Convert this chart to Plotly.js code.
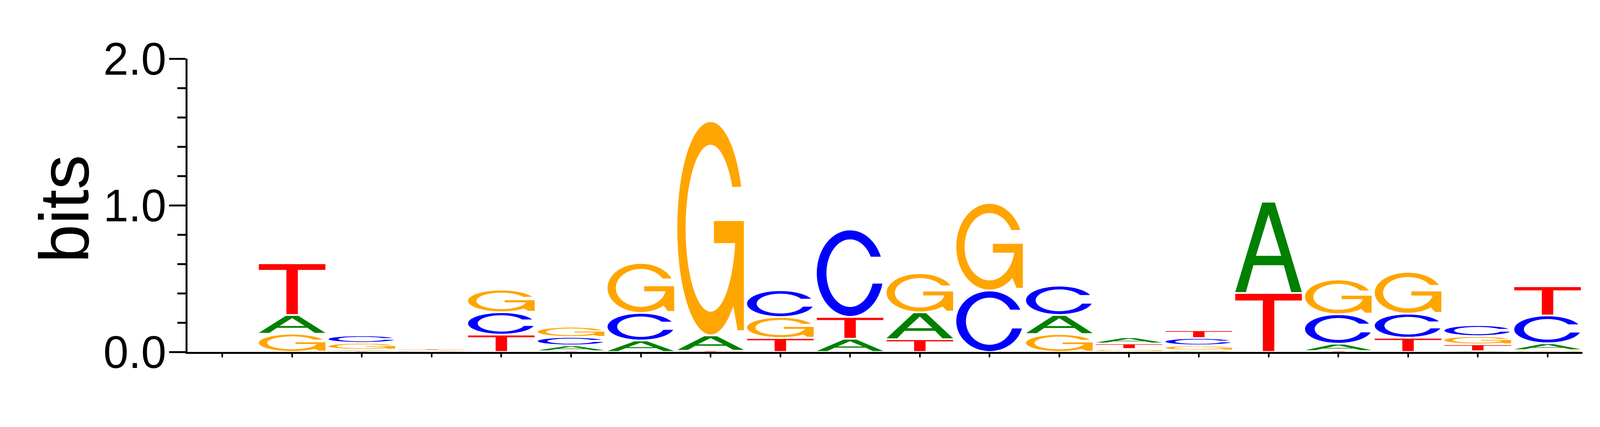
<!DOCTYPE html>
<html>
<head>
<meta charset="utf-8">
<title>Sequence logo</title>
<script src="https://cdn.plot.ly/plotly-3.0.1.min.js" charset="utf-8"></script>
<style>
    * { margin: 0; padding: 0; }
    body { background: white; overflow: hidden; }
</style>
</head>
<body>
<div id="logo"></div>
<script>
// positions of the motif and information content (bits) of every base
const positions = [1, 2, 3, 4, 5, 6, 7, 8, 9, 10, 11, 12, 13, 14, 15, 16, 17, 18, 19, 20];
const bitsA = [0, 0.128, 0.010, 0.004, 0, 0.040, 0.078, 0.105, 0, 0.090, 0.183, 0, 0.130, 0.042, 0.010, 0.623, 0.050, 0, 0.005, 0.047];
const bitsC = [0, 0, 0.051, 0.002, 0.153, 0.057, 0.188, 0, 0.183, 0.596, 0, 0.419, 0.200, 0, 0.050, 0, 0.201, 0.164, 0.075, 0.190];
const bitsG = [0, 0.124, 0.047, 0.006, 0.154, 0.070, 0.341, 1.461, 0.143, 0, 0.267, 0.597, 0.122, 0.020, 0.035, 0, 0.237, 0.285, 0.056, 0.012];
const bitsT = [0, 0.353, 0.005, 0.008, 0.118, 0.005, 0, 0.008, 0.095, 0.149, 0.087, 0, 0, 0.038, 0.053, 0.402, 0.006, 0.097, 0.047, 0.199];

const yTickVals = [0, 1, 2];
const yTickText = ['0.0', '1.0', '2.0'];

const colors = { A: '#008000', C: '#0000ff', G: '#ffa500', T: '#ff0000' };

// points on an ellipse arc, angles in degrees
function arc(cx, cy, rx, ry, a0, a1, n) {
    let pts = [];
    for (let i = 0; i <= n; i++) {
        let a = (a0 + (a1 - a0) * i / n) * Math.PI / 180;
        pts.push([cx + rx * Math.cos(a), cy + ry * Math.sin(a)]);
    }
    return pts;
}

// letter outlines in a unit box (0..1 wide, 0..1 high)
const glyphs = {
    A: [
        [[0, 0], [0.405, 1], [0.595, 1], [1, 0], [0.84, 0], [0.728, 0.30], [0.272, 0.30], [0.16, 0]],
        [[0.31, 0.405], [0.69, 0.405], [0.5, 0.866]]
    ],
    C: [
        arc(0.5, 0.5, 0.5, 0.5, 22.6, 345.9, 80).concat(arc(0.5, 0.5, 0.355, 0.395, -18, -330.9, 80))
    ],
    G: [
        arc(0.5, 0.5, 0.5, 0.5, 23, 313, 80)
            .concat([[0.905, 0.02], [1, 0.02], [1, 0.534], [0.55, 0.534], [0.55, 0.43], [0.875, 0.43]])
            .concat(arc(0.5, 0.5, 0.375, 0.393, -10, -330.4, 80))
    ],
    T: [
        [[0, 1], [1, 1], [1, 0.884], [0.586, 0.884], [0.586, 0], [0.414, 0], [0.414, 0.884], [0, 0.884]]
    ]
};

function glyphPath(letter, x, y0, h) {
    let pad = Math.min(0.006, h * 0.35);
    let bottom = y0 + pad;
    let height = h - 2 * pad;
    let left = x - 0.4775;
    let width = 0.955;
    return glyphs[letter].map(function (ring) {
        return 'M' + ring.map(function (p) {
            return (left + p[0] * width).toFixed(4) + ',' + (bottom + p[1] * height).toFixed(5);
        }).join('L') + 'Z';
    }).join(' ');
}

let shapes = [];
for (let i = 0; i < positions.length; i++) {
    let stack = [
        { l: 'A', h: bitsA[i] },
        { l: 'C', h: bitsC[i] },
        { l: 'G', h: bitsG[i] },
        { l: 'T', h: bitsT[i] }
    ].filter(s => s.h > 0);
    stack.sort((a, b) => a.h - b.h); // smallest at the bottom
    let y = 0;
    for (let s of stack) {
        shapes.push({
            type: 'path',
            xref: 'x',
            yref: 'y',
            path: glyphPath(s.l, positions[i], y, s.h),
            fillcolor: colors[s.l],
            fillrule: 'evenodd',
            line: { width: 0 },
            layer: 'above'
        });
        y += s.h;
    }
}

// the window may be narrower than the original picture, keep the proportions
let W = window.innerWidth || 4592;
let H = 1092;

let layout = {
    width: W,
    height: H,
    margin: { l: Math.round(W * 538 / 4592), r: Math.round(W * 51 / 4592), t: 150, b: 192 },
    paper_bgcolor: 'white',
    plot_bgcolor: 'white',
    showlegend: false,
    xaxis: {
        range: [0.5, 20.5],
        tickmode: 'array',
        tickvals: positions,
        showticklabels: false,
        ticks: 'outside',
        ticklen: 9,
        tickwidth: 4,
        tickcolor: 'black',
        showline: true,
        linewidth: 5,
        linecolor: 'black',
        showgrid: false,
        zeroline: false
    },
    yaxis: {
        range: [0, 2],
        tickmode: 'array',
        tickvals: yTickVals,
        ticktext: yTickText,
        ticks: 'outside',
        ticklen: 42,
        tickwidth: 5,
        tickcolor: 'black',
        ticklabelstandoff: -16,
        tickfont: { family: 'Liberation Sans, Arial, sans-serif', size: 116, color: 'black' },
        minor: { tick0: 0, dtick: 0.2, ticks: 'outside', ticklen: 21, tickwidth: 5, tickcolor: 'black' },
        showline: true,
        linewidth: 5,
        linecolor: 'black',
        showgrid: false,
        zeroline: false
    },
    annotations: [{
        text: 'bits',
        xref: 'paper',
        yref: 'paper',
        x: -0.0882,
        y: 0.487,
        xanchor: 'center',
        yanchor: 'middle',
        textangle: -90,
        showarrow: false,
        font: { family: 'Liberation Sans, Arial, sans-serif', size: 178, color: 'black' }
    }],
    shapes: shapes
};

Plotly.newPlot('logo', [], layout, { staticPlot: true });
</script>
</body>
</html>
